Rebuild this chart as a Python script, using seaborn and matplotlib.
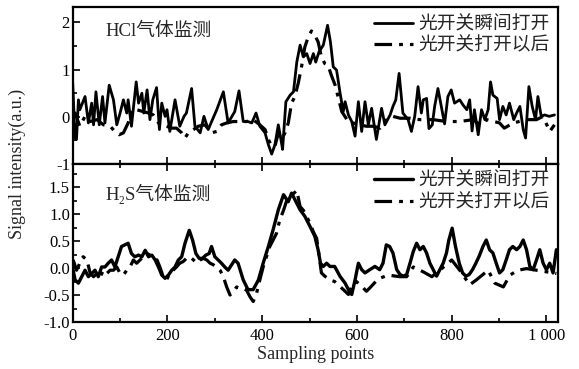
import numpy as np
import pandas as pd
import matplotlib
matplotlib.use("Agg")
import matplotlib.pyplot as plt
import matplotlib.ticker as mticker
import seaborn as sns

# ---- HCl panel: solid = switch just opened, dash-dot = after switch opened
hcl_on_x = [0, 5, 8, 12, 15, 26, 33, 40, 44, 49, 56, 63, 68, 77, 86, 93, 100, 107,
            114, 117, 124, 134, 139, 146, 150, 157, 163, 169, 177, 183, 188, 195, 199,
            205, 216, 226, 235, 240, 251, 258, 269, 277, 286, 295, 304, 318, 328, 342,
            351, 360, 370, 378, 387, 395, 406, 413, 420, 427, 434, 439, 443, 450, 459,
            466, 473, 480, 487, 494, 501, 508, 513, 520, 529, 538, 544, 550, 557, 564,
            571, 575, 582, 589, 596, 603, 610, 617, 624, 631, 641, 652, 659, 670, 676,
            682, 689, 697, 708, 715, 722, 729, 736, 740, 747, 752, 759, 764, 771, 778,
            785, 792, 799, 806, 817, 824, 832, 838, 843, 848, 856, 863, 870, 877, 882,
            887, 896, 901, 908, 915, 922, 931, 937, 944, 951, 956, 963, 970, 977, 982,
            989, 996, 1006, 1017]
hcl_on_y = [0.71, -0.48, -0.48, 0.36, 0.15, 0.43, -0.13, 0.29, -0.17, 0.53, -0.17, 0.43,
            -0.13, 0.67, 0.36, -0.17, 0.08, 0.36, 0.08, 0.36, -0.20, 0.74, 0.29, 0.50,
            0.08, 0.57, -0.06, 0.36, 0.62, -0.27, 0.29, 0.01, 0.15, -0.31, 0.36, -0.20,
            0.01, 0.08, 0.60, -0.20, -0.34, 0.01, -0.27, -0.06, 0.15, 0.53, -0.13, 0.11,
            0.55, -0.10, -0.10, -0.13, 0.08, -0.20, -0.34, -0.59, -0.79, -0.59, -0.17,
            -0.45, -0.69, 0.32, 0.46, 0.53, 1.16, 1.52, 1.27, 1.34, 1.13, 1.34, 1.16,
            1.38, 1.52, 1.94, 1.59, 1.06, 0.99, 0.53, 0.11, 0.32, 0.04, -0.10, -0.41,
            0.32, -0.31, 0.32, -0.17, 0.18, -0.48, 0.18, -0.17, 0.04, 0.22, 0.36, 0.92,
            0.08, -0.06, -0.31, 0.01, 0.64, 0.08, 0.36, 0.39, -0.25, -0.17, 0.22, 0.60,
            0.22, -0.15, 0.43, 0.57, 0.29, 0.36, 0.25, 0.15, 0.36, -0.30, 0.15, -0.38,
            0.15, -0.06, 0.15, 0.74, 0.46, 0.39, -0.06, 0.22, 0.04, 0.29, -0.06, 0.08,
            0.22, -0.27, -0.45, 0.64, 0.22, -0.06, 0.43, 0.01, 0.04, 0.01, 0.04]

hcl_after_x = [0, 5, 15, 26, 37, 51, 65, 79, 89, 98, 107, 117, 124, 135, 149, 160, 170,
               184, 198, 209, 219, 230, 237, 244, 255, 265, 279, 293, 304, 314, 325, 339,
               353, 367, 381, 395, 406, 413, 420, 427, 434, 441, 448, 455, 462, 469, 476,
               483, 490, 497, 504, 511, 518, 525, 532, 539, 546, 554, 561, 568, 579, 592,
               606, 620, 634, 649, 663, 676, 691, 712, 733, 761, 789, 817, 845, 860, 874,
               901, 911, 930, 958, 979, 993, 1007, 1017]
hcl_after_y = [0.01, 0.08, -0.20, 0.01, -0.10, -0.06, -0.17, -0.20, -0.31, -0.38, -0.34,
               -0.13, 0.15, 0.15, 0.11, 0.08, 0.04, -0.17, -0.20, -0.24, -0.24, -0.34,
               -0.45, -0.34, -0.27, -0.20, -0.17, -0.34, -0.31, -0.17, -0.13, -0.10,
               -0.10, -0.10, -0.06, -0.17, -0.27, -0.48, -0.62, -0.62, -0.34, -0.48,
               -0.34, -0.13, 0.29, 0.43, 0.71, 1.06, 1.48, 1.69, 1.82, 1.73, 1.59, 1.27,
               1.13, 1.09, 0.88, 0.67, 0.39, 0.11, -0.06, -0.13, -0.17, -0.20, -0.20,
               -0.24, -0.06, 0.01, -0.03, -0.03, -0.06, -0.06, -0.10, -0.10, -0.06,
               -0.17, -0.06, -0.13, -0.24, -0.13, -0.06, -0.06, 0.01, -0.31, -0.17]

# ---- H2S panel
h2s_on_x = [1, 5, 12, 19, 26, 33, 40, 47, 54, 61, 68, 75, 82, 89, 96, 103, 110, 117,
            124, 131, 139, 146, 153, 160, 167, 174, 181, 188, 195, 202, 209, 216, 223,
            230, 237, 246, 253, 260, 267, 274, 281, 288, 293, 300, 307, 314, 321, 328,
            342, 349, 360, 370, 381, 392, 402, 413, 423, 434, 445, 455, 462, 469, 480,
            490, 501, 511, 518, 523, 529, 536, 543, 553, 564, 575, 582, 589, 596, 603,
            610, 617, 627, 638, 648, 655, 662, 669, 676, 684, 691, 698, 705, 712, 719,
            726, 733, 740, 747, 754, 761, 768, 775, 782, 789, 794, 801, 808, 816, 823,
            830, 837, 844, 851, 858, 866, 873, 880, 887, 894, 901, 908, 915, 922, 929,
            937, 944, 951, 958, 965, 972, 979, 986, 993, 1000, 1007, 1014, 1021]
h2s_on_y = [-0.04, -0.22, -0.28, -0.16, -0.04, -0.16, -0.10, -0.04, -0.16, 0.02, 0.02,
            0.09, 0.15, 0.02, 0.21, 0.40, 0.43, 0.46, 0.27, 0.21, 0.24, 0.21, 0.33, 0.21,
            0.24, 0.15, 0.02, -0.13, -0.19, -0.13, -0.04, 0.02, 0.15, 0.21, 0.46, 0.70,
            0.52, 0.27, 0.18, 0.18, 0.24, 0.27, 0.40, 0.21, 0.15, 0.09, 0.02, -0.04,
            0.15, 0.09, -0.22, -0.40, -0.40, -0.22, 0.09, 0.40, 0.71, 1.08, 1.36, 1.23,
            1.39, 1.27, 1.08, 0.96, 0.77, 0.59, 0.34, 0.09, 0.03, 0.09, 0.03, 0.03,
            -0.15, -0.28, -0.40, -0.49, -0.22, 0.09, -0.03, -0.09, -0.03, 0.03, -0.03,
            0.09, 0.43, 0.40, 0.28, -0.03, -0.12, -0.15, -0.12, 0.09, 0.31, 0.46, 0.34,
            0.40, 0.28, 0.09, -0.03, -0.15, -0.03, 0.09, 0.28, 0.52, 0.74, 0.40, 0.09,
            -0.09, -0.15, -0.12, -0.03, 0.09, 0.22, 0.40, 0.52, 0.34, 0.28, 0.09, -0.09,
            -0.03, 0.15, 0.34, 0.40, 0.34, 0.40, 0.52, 0.34, 0.03, -0.03, 0.15, 0.34,
            0.09, -0.03, 0.09, -0.09, 0.34]

h2s_after_x = [1, 8, 15, 22, 30, 37, 44, 51, 58, 65, 72, 79, 86, 93, 100, 107, 114, 121,
               128, 135, 142, 149, 157, 163, 171, 178, 184, 191, 198, 205, 212, 219, 226,
               233, 240, 247, 255, 262, 269, 276, 283, 290, 297, 304, 311, 318, 325, 332,
               339, 346, 353, 360, 367, 374, 381, 388, 395, 402, 409, 416, 423, 430, 437,
               445, 452, 459, 466, 473, 480, 487, 494, 501, 508, 515, 525, 532, 543, 553,
               564, 575, 582, 589, 599, 610, 620, 627, 645, 666, 690, 705, 719, 740, 758,
               775, 800, 817, 838, 852, 877, 891, 909, 923, 940, 958, 979, 1000, 1021]
h2s_after_y = [0.15, -0.04, 0.09, 0.21, 0.15, -0.10, -0.16, -0.10, -0.16, -0.04, -0.10,
               -0.04, -0.04, 0.02, -0.10, -0.13, -0.04, 0.02, 0.15, 0.09, 0.15, 0.21,
               0.27, 0.24, 0.18, 0.15, 0.02, -0.16, -0.22, -0.10, -0.04, 0.02, 0.09, 0.12,
               0.18, 0.21, 0.15, 0.09, 0.15, 0.18, 0.15, 0.09, 0.06, 0.02, -0.04, -0.16,
               -0.35, -0.50, -0.44, -0.35, -0.38, -0.38, -0.41, -0.53, -0.62, -0.47,
               -0.22, 0.02, 0.21, 0.40, 0.52, 0.64, 0.89, 1.07, 1.26, 1.32, 1.38, 1.44,
               1.14, 1.07, 0.95, 0.83, 0.67, 0.55, -0.09, -0.15, -0.22, -0.25, -0.34,
               -0.43, -0.49, -0.34, -0.25, -0.34, -0.43, -0.37, -0.20, -0.13, -0.16,
               -0.16, 0.02, -0.07, -0.16, -0.04, 0.15, -0.04, -0.31, -0.22, -0.04, -0.28,
               -0.35, -0.13, -0.04, -0.01, -0.04, -0.07, -0.10]

labels = ["光开关瞬间打开", "光开关打开以后"]
titles = ["HCl气体监测", "H₂S气体监测"]
x_ticks = [0, 200, 400, 600, 800, 1000]

sns.set_theme(style="ticks")
CJK = ["Liberation Serif", "Noto Sans CJK SC"]
plt.rcParams["font.family"] = CJK
plt.rcParams["axes.unicode_minus"] = False

fig = plt.figure(figsize=(5.79, 3.69), dpi=100)
ax1 = fig.add_axes([0.1256, 0.5556, 0.8386, 0.4244])
ax2 = fig.add_axes([0.1256, 0.1274, 0.8386, 0.4282])

DASH = (0, (5.5, 2.2, 1.2, 2.2))

panels = [
    (ax1, hcl_on_x, hcl_on_y, hcl_after_x, hcl_after_y, 2.0),
    (ax2, h2s_on_x, h2s_on_y, h2s_after_x, h2s_after_y, 2.4),
]
for ax, xa, ya, xb, yb, lw in panels:
    sns.lineplot(x=xa, y=ya, ax=ax, color="black", linewidth=lw,
                 label=labels[0], sort=False)
    sns.lineplot(x=xb, y=yb, ax=ax, color="black", linewidth=2.3,
                 linestyle=DASH, label=labels[1], sort=False)
    ax.set_xlim(0, 1025)
    ax.set_xlabel("")
    ax.set_ylabel("")
    ax.xaxis.set_major_locator(mticker.FixedLocator(x_ticks))
    ax.xaxis.set_minor_locator(mticker.MultipleLocator(100))
    ax.xaxis.set_major_formatter(
        mticker.FuncFormatter(lambda v, _: f"{int(v):,}".replace(",", " ")))
    ax.tick_params(which="both", direction="in", width=1.2, colors="black",
                   labelsize=12, pad=2)
    ax.tick_params(axis="x", pad=4)
    ax.tick_params(which="major", length=5)
    ax.tick_params(which="minor", length=3)
    for s in ax.spines.values():
        s.set_linewidth(1.6)
        s.set_color("black")
    ax.legend(loc="upper right", frameon=False, prop={"family": CJK, "size": 13.5},
              handlelength=2.1, handletextpad=0.3, labelspacing=0.22,
              borderaxespad=0.25, borderpad=0.2)

# top panel
ax1.set_ylim(-1, 2.32)
ax1.yaxis.set_major_locator(mticker.FixedLocator([-1, 0, 1, 2]))
ax1.yaxis.set_minor_locator(mticker.MultipleLocator(0.5))
ax1.yaxis.set_major_formatter(mticker.FuncFormatter(lambda v, _: f"{int(round(v))}"))
ax1.tick_params(axis="x", labelbottom=False)
ax1.text(0.068, 0.845, titles[0], transform=ax1.transAxes, fontsize=13.5,
         family=CJK, va="center", ha="left")

# bottom panel
ax2.set_ylim(-1.0, 1.93)
ax2.yaxis.set_major_locator(mticker.FixedLocator([-1.0, -0.5, 0.0, 0.5, 1.0, 1.5]))
ax2.yaxis.set_minor_locator(mticker.MultipleLocator(0.25))
ax2.yaxis.set_major_formatter(mticker.FormatStrFormatter("%.1f"))
ax2.tick_params(axis="x", which="both", top=True)
ax2.text(0.068, 0.81, titles[1], transform=ax2.transAxes, fontsize=13.5,
         family=CJK, va="center", ha="left")
ax2.set_xlabel("Sampling points", fontsize=13, labelpad=2)

fig.text(0.03, 0.555, "Signal intensity(a.u.)", rotation=90, fontsize=13,
         va="center", ha="center")

fig.savefig("out.png", dpi=100)
